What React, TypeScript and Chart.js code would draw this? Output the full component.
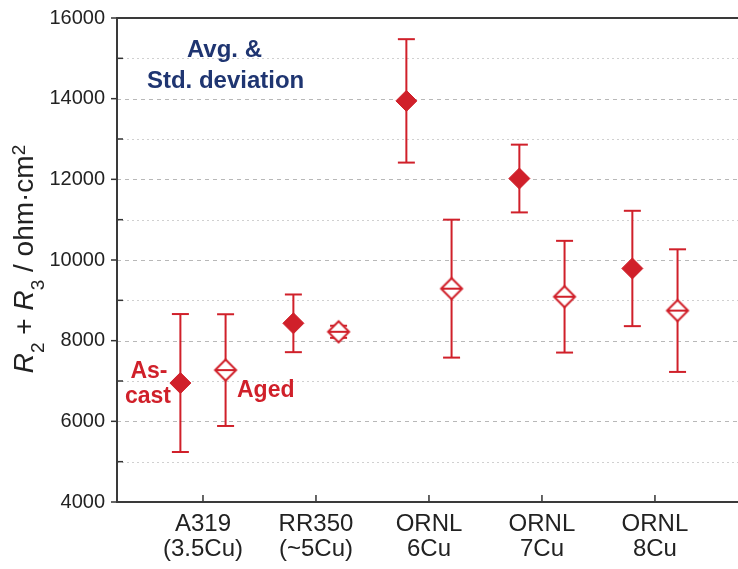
import React, { useEffect, useRef } from "react";
import { Chart, registerables } from "chart.js";

Chart.register(...registerables);

// ---- data ----
const categories: string[][] = [
  ["A319", "(3.5Cu)"],
  ["RR350", "(~5Cu)"],
  ["ORNL", "6Cu"],
  ["ORNL", "7Cu"],
  ["ORNL", "8Cu"],
];
const asCastMean = [6950, 8430, 13945, 12020, 9790];
const asCastSD = [1710, 715, 1530, 840, 1430];
const agedMean = [7270, 8220, 9290, 9090, 8745];
const agedSD = [1385, 150, 1710, 1385, 1520];

const yMin = 4000;
const yMax = 16000;
const yStep = 1000;
const yLabelStep = 2000;

// ---- layout / style ----
const xMin = 0.239;
const xMax = 5.735;
const groupOffset = 0.2;
const RED = "#d0202a";
const NAVY = "#1f3571";
const AXIS = "#333333";
const FONT = "'Liberation Sans', Arial, Helvetica, sans-serif";

const notes = [
  { text: "Avg. &", x: 1.19, y: 15030, color: NAVY, size: 24, align: "center" },
  { text: "Std. deviation", x: 1.2, y: 14265, color: NAVY, size: 24, align: "center" },
  { text: "As-", x: 0.522, y: 7075, color: RED, size: 23, align: "center" },
  { text: "cast", x: 0.513, y: 6455, color: RED, size: 23, align: "center" },
  { text: "Aged", x: 1.301, y: 6603, color: RED, size: 23, align: "left" },
];

function makeAgedMarker(color: string) {
  const c = document.createElement("canvas");
  const s = 26;
  c.width = s;
  c.height = s;
  const g = c.getContext("2d")!;
  const m = s / 2;
  const r = 10.5;
  g.beginPath();
  g.moveTo(m - r, m);
  g.lineTo(m, m - r);
  g.lineTo(m + r, m);
  g.lineTo(m, m + r);
  g.closePath();
  g.fillStyle = "#ffffff";
  g.fill();
  g.lineWidth = 2;
  g.strokeStyle = color;
  g.stroke();
  g.beginPath();
  g.moveTo(m - r + 1, m);
  g.lineTo(m + r - 1, m);
  g.stroke();
  return c;
}

const errData = (means: number[], sds: number[], off: number) =>
  means.flatMap((m, i) => [
    { x: i + 1 + off, y: m - sds[i] },
    { x: i + 1 + off, y: m + sds[i] },
    { x: i + 1 + off, y: null as any },
  ]);

const pointData = (means: number[], off: number) =>
  means.map((m, i) => ({ x: i + 1 + off, y: m }));

const decorPlugin = {
  id: "decor",
  beforeDatasetsDraw(chart: any) {
    const { ctx, chartArea: a, scales } = chart;
    const y = scales.y;
    ctx.save();
    ctx.lineWidth = 1;
    y.ticks.forEach((t: any) => {
      if (t.value <= yMin || t.value >= yMax) return;
      const py = Math.round(y.getPixelForValue(t.value)) + 0.5;
      const major = t.value % yLabelStep === 0;
      ctx.strokeStyle = major ? "#b8b8b8" : "#d0d0d0";
      ctx.setLineDash(major ? [4, 4] : [2, 3]);
      ctx.beginPath();
      ctx.moveTo(a.left, py);
      ctx.lineTo(a.right, py);
      ctx.stroke();
    });
    ctx.restore();
  },
  afterDraw(chart: any) {
    const { ctx, chartArea: a, scales } = chart;
    const x = scales.x;
    const y = scales.y;
    ctx.save();
    ctx.strokeStyle = AXIS;
    ctx.lineWidth = 1.5;
    y.ticks.forEach((t: any) => {
      const py = y.getPixelForValue(t.value);
      ctx.beginPath();
      if (t.value % yLabelStep === 0) {
        ctx.moveTo(a.left - 6, py);
        ctx.lineTo(a.left, py);
      } else {
        ctx.moveTo(a.left, py);
        ctx.lineTo(a.left + 6, py);
      }
      ctx.stroke();
    });
    x.ticks.forEach((t: any) => {
      const px = x.getPixelForValue(t.value);
      ctx.beginPath();
      ctx.moveTo(px, a.bottom);
      ctx.lineTo(px, a.bottom - 7);
      ctx.stroke();
    });
    // frame
    ctx.lineWidth = 2;
    ctx.strokeStyle = "#3a3a3a";
    ctx.beginPath();
    ctx.moveTo(a.right + 2, a.top);
    ctx.lineTo(a.left, a.top);
    ctx.lineTo(a.left, a.bottom);
    ctx.lineTo(a.right + 2, a.bottom);
    ctx.stroke();

    // annotations
    notes.forEach((n) => {
      ctx.font = `bold ${n.size}px ${FONT}`;
      ctx.fillStyle = n.color;
      ctx.textAlign = n.align as CanvasTextAlign;
      ctx.textBaseline = "alphabetic";
      ctx.fillText(n.text, x.getPixelForValue(n.x), y.getPixelForValue(n.y));
    });

    // y-axis title with italic R and sub/superscripts
    const segs = [
      { t: "R", f: `italic 28px ${FONT}`, dy: 0 },
      { t: "2", f: `19px ${FONT}`, dy: 11 },
      { t: " + ", f: `28px ${FONT}`, dy: 0 },
      { t: "R", f: `italic 28px ${FONT}`, dy: 0 },
      { t: "3", f: `19px ${FONT}`, dy: 11 },
      { t: " / ohm\u00b7cm", f: `28px ${FONT}`, dy: 0 },
      { t: "2", f: `19px ${FONT}`, dy: -8 },
    ];
    let total = 0;
    const widths = segs.map((s) => {
      ctx.font = s.f;
      const w = ctx.measureText(s.t).width;
      total += w;
      return w;
    });
    const cy = 259;
    ctx.translate(33, cy);
    ctx.rotate(-Math.PI / 2);
    ctx.fillStyle = "#222222";
    ctx.textAlign = "left";
    ctx.textBaseline = "alphabetic";
    let cx = -total / 2;
    segs.forEach((s, i) => {
      ctx.font = s.f;
      ctx.fillText(s.t, cx, s.dy);
      cx += widths[i];
    });
    ctx.restore();
  },
};

export default function App() {
  const ref = useRef<HTMLCanvasElement | null>(null);

  useEffect(() => {
    if (!ref.current) return;
    const agedMarker = makeAgedMarker(RED);
    const chart = new Chart(ref.current, {
      type: "scatter",
      data: {
        datasets: [
          {
            label: "As-cast",
            data: pointData(asCastMean, -groupOffset),
            pointStyle: "rectRot",
            pointRadius: 10.5,
            pointBackgroundColor: RED,
            pointBorderColor: RED,
            pointBorderWidth: 1,
          },
          {
            label: "Aged",
            data: pointData(agedMean, groupOffset),
            pointStyle: agedMarker as any,
            pointRadius: 11,
          },
          {
            label: "As-cast SD",
            data: errData(asCastMean, asCastSD, -groupOffset),
            showLine: true,
            spanGaps: false,
            borderColor: RED,
            borderWidth: 2,
            pointStyle: "line",
            pointRadius: 8.5,
            pointBorderColor: RED,
            pointBorderWidth: 2,
          },
          {
            label: "Aged SD",
            data: errData(agedMean, agedSD, groupOffset),
            showLine: true,
            spanGaps: false,
            borderColor: RED,
            borderWidth: 2,
            pointStyle: "line",
            pointRadius: 8.5,
            pointBorderColor: RED,
            pointBorderWidth: 2,
          },
        ] as any,
      },
      options: {
        animation: false,
        responsive: false,
        devicePixelRatio: 1,
        events: [],
        layout: { autoPadding: false, padding: { top: 18, right: 0, left: 0, bottom: 0 } },
        plugins: {
          legend: { display: false },
          tooltip: { enabled: false },
        },
        scales: {
          x: {
            type: "linear",
            min: xMin,
            max: xMax,
            grid: { display: false, drawTicks: false },
            border: { display: false },
            afterBuildTicks: (scale: any) => {
              scale.ticks = categories.map((_, i) => ({ value: i + 1 }));
            },
            afterFit: (scale: any) => {
              scale.height = 67;
              scale.paddingLeft = 0;
              scale.paddingRight = 0;
            },
            ticks: {
              autoSkip: false,
              maxRotation: 0,
              padding: 10,
              color: "#222222",
              font: { family: FONT, size: 24, lineHeight: "25px" as any },
              callback: (v: any) => categories[Math.round(Number(v)) - 1] ?? "",
            },
          },
          y: {
            type: "linear",
            min: yMin,
            max: yMax,
            grid: { display: false, drawTicks: false },
            border: { display: false },
            afterFit: (scale: any) => {
              scale.width = 117;
              scale.paddingTop = 0;
              scale.paddingBottom = 0;
            },
            ticks: {
              stepSize: yStep,
              autoSkip: false,
              padding: 12,
              color: "#222222",
              font: { family: FONT, size: 20 },
              callback: (v: any) => (Number(v) % yLabelStep === 0 ? String(v) : ""),
            },
          },
        },
      },
      plugins: [decorPlugin],
    });
    return () => chart.destroy();
  }, []);

  return (
    <div
      style={{
        position: "fixed",
        left: 0,
        top: 0,
        width: 738,
        height: 569,
        background: "#ffffff",
      }}
    >
      <canvas ref={ref} width={738} height={569} style={{ width: 738, height: 569 }} />
    </div>
  );
}
